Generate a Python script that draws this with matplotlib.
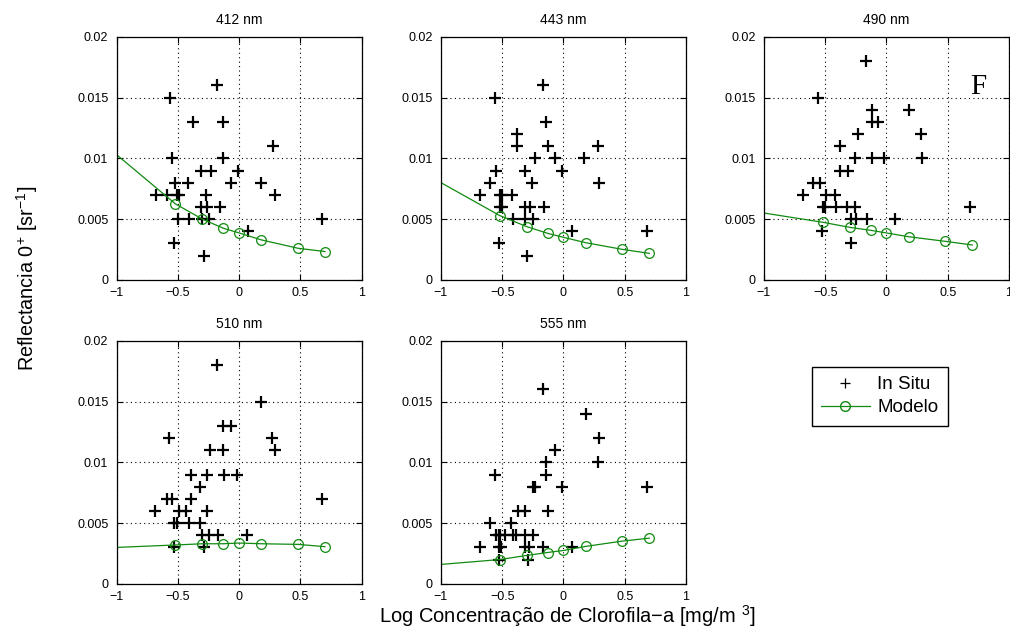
import matplotlib
matplotlib.use("Agg")
import matplotlib.pyplot as plt
from matplotlib.lines import Line2D

plt.rcParams['font.family'] = ['Liberation Sans', 'DejaVu Sans']
plt.rcParams['mathtext.fontset'] = 'custom'
plt.rcParams['mathtext.rm'] = 'Liberation Sans'
plt.rcParams['mathtext.it'] = 'Liberation Sans:italic'

# wavelengths (one panel each)
titles = ["412 nm", "443 nm", "490 nm", "510 nm", "555 nm"]

# in situ measurements (log chl, reflectance)
x412 = [-0.18, -0.565, -0.38, -0.13, 0.28, -0.55, -0.13, -0.31, -0.23, -0.01, -0.52, -0.42, -0.07, 0.18,
        -0.68, -0.59, -0.51, -0.49, -0.27, 0.29, -0.31, -0.26, -0.16, -0.5, -0.41, -0.3, -0.25, 0.68,
        0.07, -0.53, -0.29]
y412 = [0.016, 0.015, 0.013, 0.013, 0.011, 0.010, 0.010, 0.009, 0.009, 0.009, 0.008, 0.008, 0.008, 0.008,
        0.007, 0.007, 0.007, 0.007, 0.007, 0.007, 0.006, 0.006, 0.006, 0.005, 0.005, 0.005, 0.005, 0.005,
        0.004, 0.003, 0.002]

x443 = [-0.17, -0.56, -0.14, -0.38, -0.38, -0.13, 0.28, -0.23, -0.07, 0.17, -0.55, -0.31, -0.01, -0.60,
        -0.26, 0.29, -0.68, -0.52, -0.50, -0.42, -0.52, -0.50, -0.31, -0.27, -0.16, -0.41, -0.31, -0.25,
        0.07, 0.68, -0.53, -0.30]
y443 = [0.016, 0.015, 0.013, 0.012, 0.011, 0.011, 0.011, 0.010, 0.010, 0.010, 0.009, 0.009, 0.009, 0.008,
        0.008, 0.008, 0.007, 0.007, 0.007, 0.007, 0.006, 0.006, 0.006, 0.006, 0.006, 0.005, 0.005, 0.005,
        0.004, 0.004, 0.003, 0.002]

x490 = [-0.17, -0.56, -0.12, 0.18, -0.12, -0.07, -0.23, 0.28, -0.38, -0.26, -0.12, -0.02, 0.29, -0.38,
        -0.31, -0.60, -0.54, -0.68, -0.49, -0.42, -0.52, -0.50, -0.41, -0.32, -0.26, 0.68, -0.29, -0.25,
        -0.16, 0.07, -0.53, -0.29]
y490 = [0.018, 0.015, 0.014, 0.014, 0.013, 0.013, 0.012, 0.012, 0.011, 0.010, 0.010, 0.010, 0.010, 0.009,
        0.009, 0.008, 0.008, 0.007, 0.007, 0.007, 0.006, 0.006, 0.006, 0.006, 0.006, 0.006, 0.005, 0.005,
        0.005, 0.005, 0.004, 0.003]

x510 = [-0.18, 0.18, -0.13, -0.07, -0.57, 0.27, -0.24, -0.13, 0.29, -0.39, -0.26, -0.12, -0.02, -0.32,
        -0.59, -0.55, -0.39, 0.68, -0.69, -0.49, -0.43, -0.26, -0.53, -0.51, -0.41, -0.32, -0.30, -0.25,
        -0.17, 0.06, -0.53, -0.29]
y510 = [0.018, 0.015, 0.013, 0.013, 0.012, 0.012, 0.011, 0.011, 0.011, 0.009, 0.009, 0.009, 0.009, 0.008,
        0.007, 0.007, 0.007, 0.007, 0.006, 0.006, 0.006, 0.006, 0.005, 0.005, 0.005, 0.005, 0.004, 0.004,
        0.004, 0.004, 0.003, 0.003]

x555 = [-0.17, 0.18, 0.29, -0.07, -0.14, 0.28, -0.56, -0.14, -0.25, -0.23, -0.01, 0.68, -0.37, -0.31,
        -0.13, -0.60, -0.43, -0.55, -0.53, -0.52, -0.48, -0.41, -0.39, -0.31, -0.25, -0.68, -0.53, -0.51,
        -0.31, -0.28, -0.17, 0.07, -0.53, -0.29]
y555 = [0.016, 0.014, 0.012, 0.011, 0.010, 0.010, 0.009, 0.009, 0.008, 0.008, 0.008, 0.008, 0.006, 0.006,
        0.006, 0.005, 0.005, 0.004, 0.004, 0.004, 0.004, 0.004, 0.004, 0.004, 0.004, 0.003, 0.003, 0.003,
        0.003, 0.003, 0.003, 0.003, 0.002, 0.002]

# model curve: value at x=-1, then the points with circles
model_x = [-1.0, -0.52, -0.30, -0.13, 0.0, 0.18, 0.48, 0.70]
m412 = [0.0103, 0.00625, 0.0050, 0.00425, 0.00386, 0.00329, 0.0026, 0.00233]
m443 = [0.0080, 0.00529, 0.00438, 0.00383, 0.0035, 0.00306, 0.00251, 0.00218]
m490 = [0.0055, 0.00474, 0.00432, 0.00408, 0.00386, 0.00355, 0.00317, 0.00287]
m510 = [0.0030, 0.0032, 0.0033, 0.0033, 0.00336, 0.0033, 0.00325, 0.00306]
m555 = [0.0016, 0.0020, 0.00234, 0.00258, 0.00275, 0.00308, 0.00352, 0.00376]

xs = [x412, x443, x490, x510, x555]
ys = [y412, y443, y490, y510, y555]
ms = [m412, m443, m490, m510, m555]

green = '#108a10'

fig = plt.figure(figsize=(10.1, 6.36), dpi=100)

# axes boxes in figure fraction
lefts = [0.1155, 0.4366, 0.7564, 0.1155, 0.4366]
bottoms = [0.560, 0.560, 0.560, 0.082, 0.082]
w, h = 0.2426, 0.382

for i in range(5):
    ax = fig.add_axes([lefts[i], bottoms[i], w, h])
    ax.plot(xs[i], ys[i], '+', color='black', markersize=8, markeredgewidth=1.6)
    ax.plot(model_x, ms[i], '-', color=green, linewidth=0.9, marker='o', markersize=7,
            markerfacecolor='none', markeredgecolor=green, markeredgewidth=0.9,
            markevery=list(range(1, len(model_x))))
    ax.set_xlim(-1, 1)
    ax.set_ylim(0, 0.02)
    ax.set_xticks([-1, -0.5, 0, 0.5, 1])
    ax.set_xticklabels(['\u22121', '\u22120.5', '0', '0.5', '1'])
    ax.set_yticks([0, 0.005, 0.01, 0.015, 0.02])
    ax.set_yticklabels(['0', '0.005', '0.01', '0.015', '0.02'])
    ax.tick_params(direction='in', length=4, labelsize=9, top=True, right=True, pad=6)
    ax.tick_params(axis='x', pad=5)
    ax.grid(True, linestyle=(0, (1, 3)), color='black', linewidth=0.8)
    for s in ax.spines.values():
        s.set_linewidth(0.9)
    ax.set_title(titles[i], fontsize=10, pad=9)
    if i == 2:
        ax.text(0.75, 0.0159, 'F', fontsize=21, family='Liberation Serif', ha='center', va='center')

fig.text(0.027, 0.563, r'Reflectancia 0$\mathregular{^{+}}$ [sr$\mathregular{^{-1}}$]',
         rotation=90, fontsize=14.3, ha='center', va='center')
fig.text(0.562, 0.021, r'Log Concentração de Clorofila$\mathregular{-}$a [mg/m $\mathregular{^{3}}$]',
         fontsize=14.5, ha='center', va='baseline')

handles = [Line2D([], [], linestyle='none', marker='+', color='black', markersize=7, markeredgewidth=0.9),
           Line2D([], [], color=green, linewidth=0.9, marker='o', markersize=7,
                  markerfacecolor='none', markeredgecolor=green)]
fig.legend(handles, ['In Situ', 'Modelo'], loc='center', bbox_to_anchor=(0.871, 0.377),
           fontsize=13.5, frameon=True, fancybox=False, edgecolor='black', framealpha=1,
           handlelength=2.6, borderpad=0.5, labelspacing=0.3, handletextpad=0.4)

fig.savefig('out.png', dpi=100)
